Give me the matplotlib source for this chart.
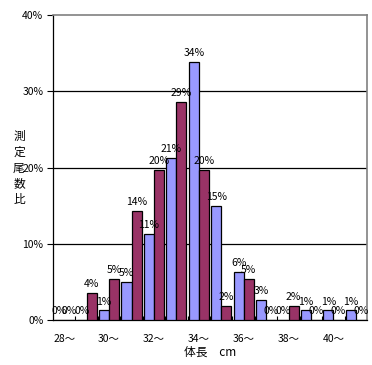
import matplotlib
matplotlib.use("Agg")
import matplotlib.pyplot as plt
import numpy as np
from matplotlib.ticker import FixedLocator, FuncFormatter

plt.rcParams['font.family'] = ['Noto Sans CJK JP', 'DejaVu Sans']

categories = ["28～", "29～", "30～", "31～", "32～", "33～", "34～", "35～",
              "36～", "37～", "38～", "39～", "40～", "41～"]
series_a = [0.0, 0.0, 1.27, 4.96, 11.3, 21.3, 33.8, 15.0, 6.27, 2.6, 0.0, 1.27, 1.27, 1.27]
series_b = [0.0, 3.6, 5.4, 14.3, 19.7, 28.6, 19.7, 1.84, 5.4, 0.0, 1.84, 0.0, 0.0, 0.0]
y_ticks = [0, 10, 20, 30, 40]
x_label = "体長　cm"
y_label = "測定尾数比"

color_a = "#9999FF"
color_b = "#993366"

W, H = 372, 365
fig = plt.figure(figsize=(W / 100, H / 100), dpi=100)
left, right, top, bottom = 53, 367, 15, 320
ax = fig.add_axes([left / W, 1 - bottom / H, (right - left) / W, (bottom - top) / H])

n = len(categories)
x = np.arange(n)
bw = 0.446
fs = 7.5

for vals, col, off in ((series_a, color_a, -bw / 2), (series_b, color_b, bw / 2)):
    ax.bar(x + off, vals, width=bw, color=col, edgecolor="black", linewidth=0.9, zorder=3)
    for xi, v in zip(x + off, vals):
        ax.text(xi, v + 0.5, f"{v:.0f}%", ha="center", va="bottom", fontsize=fs, zorder=4)

ax.set_xlim(-0.5, n - 0.5)
ax.set_ylim(0, 40)

for yv in y_ticks[1:-1]:
    ax.axhline(yv, color="black", linewidth=0.9, zorder=1)

ax.set_yticks(y_ticks)
ax.yaxis.set_major_formatter(FuncFormatter(lambda v, p: f"{v:.0f}%"))
ax.tick_params(axis="y", direction="out", length=4, width=0.8, labelsize=fs, pad=3)

ax.set_xticks(x[::2])
ax.set_xticklabels(categories[::2])
ax.tick_params(axis="x", which="major", length=0, labelsize=fs, pad=10)
ax.xaxis.set_minor_locator(FixedLocator(np.arange(0.5, n - 1, 1.0)))
ax.tick_params(axis="x", which="minor", direction="in", length=3, width=0.8)

for s in ("left", "bottom"):
    ax.spines[s].set_color("black")
    ax.spines[s].set_linewidth(0.9)
for s in ("top", "right"):
    ax.spines[s].set_color("#808080")
    ax.spines[s].set_linewidth(1.2)

ax.set_xlabel(x_label, fontsize=fs + 1, labelpad=1)

for i, ch in enumerate(y_label):
    fig.text(19 / W, 1 - (136 + 16 * i) / H, ch, fontsize=fs + 1,
             ha="center", va="center")

fig.savefig("out.png", dpi=100)
